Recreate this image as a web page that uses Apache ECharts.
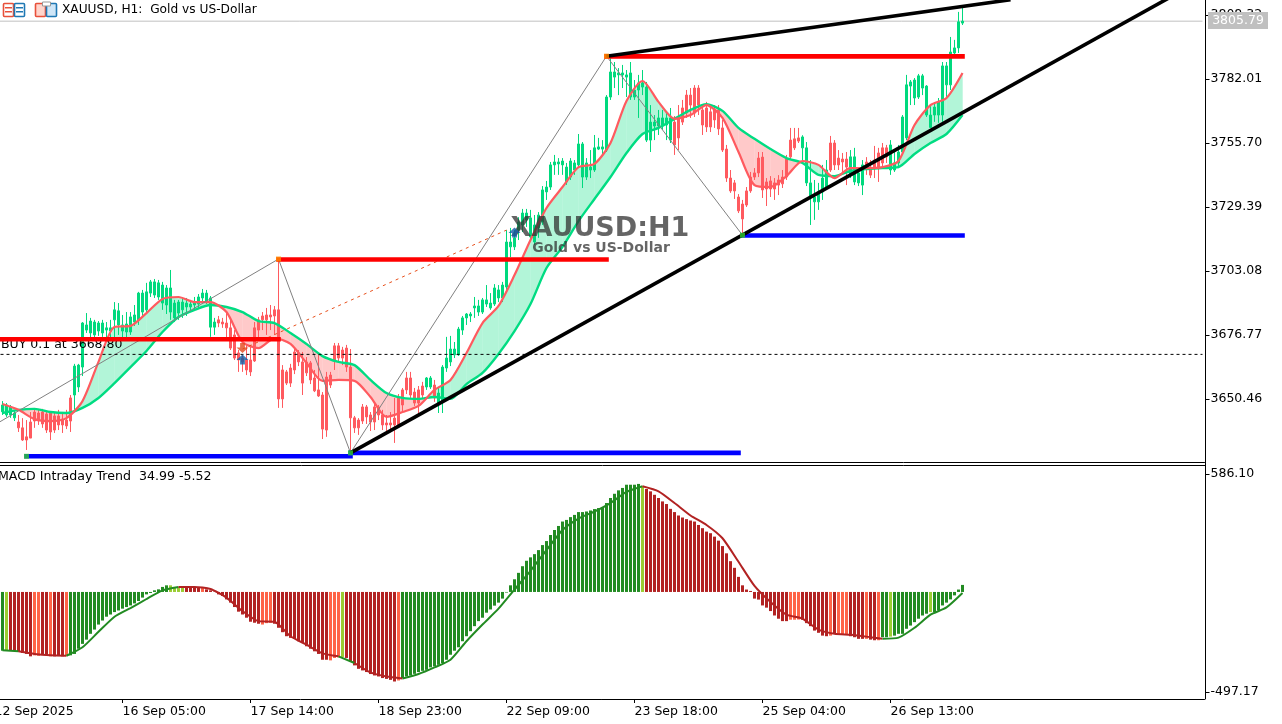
<!DOCTYPE html>
<html><head><meta charset="utf-8"><title>XAUUSD H1</title>
<style>html,body{margin:0;padding:0;background:#fff;overflow:hidden}#c{width:1282px;height:724px}</style>
<script src="https://cdn.jsdelivr.net/npm/echarts@6/dist/echarts.min.js"></script>
</head><body><div id="c"></div><script>
const opens=[3645.2,3643.9,3643.9,3642.7,3641.0,3638.6,3634.9,3641.0,3645.1,3644.7,
3645.1,3644.3,3644.7,3643.5,3643.5,3642.2,3641.8,3650.9,3652.1,3655.4,
3663.6,3678.8,3677.6,3676.8,3678.4,3677.6,3678.8,3678.4,3683.0,3680.9,
3678.4,3678.0,3678.0,3682.1,3683.0,3686.2,3687.1,3694.0,3693.2,3692.4,
3689.9,3689.1,3686.2,3683.8,3685.8,3687.1,3688.3,3688.3,3689.1,3689.5,
3692.0,3690.3,3680.0,3680.0,3683.0,3682.1,3681.7,3679.7,3676.8,3669.4,
3667.3,3666.5,3666.5,3679.7,3683.0,3684.6,3685.0,3685.0,3687.1,3687.1,
3662.4,3661.6,3663.2,3669.8,3669.4,3665.7,3665.7,3665.3,3659.1,3654.2,
3652.1,3659.5,3660.3,3672.3,3672.3,3670.6,3671.4,3663.6,3642.7,3641.8,
3647.2,3647.2,3643.9,3647.2,3647.2,3643.9,3640.6,3640.6,3642.6,3650.9,
3654.2,3659.1,3659.1,3653.3,3654.2,3655.8,3655.4,3655.4,3656.2,3648.8,
3649.3,3663.2,3665.7,3668.6,3668.6,3678.8,3683.8,3684.6,3687.9,3686.2,
3686.2,3689.5,3687.9,3689.5,3692.0,3692.0,3696.5,3713.0,3713.0,3719.9,
3722.0,3724.1,3717.1,3715.0,3720.8,3723.2,3735.6,3737.6,3746.7,3747.1,
3746.7,3739.7,3741.7,3744.6,3746.7,3741.7,3741.7,3744.6,3744.6,3753.2,
3753.2,3752.8,3774.6,3782.8,3783.7,3783.7,3782.8,3774.6,3774.6,3777.5,
3778.7,3756.9,3756.9,3762.7,3762.7,3763.1,3763.1,3756.9,3764.3,3766.0,
3770.1,3775.4,3775.4,3778.3,3778.3,3769.3,3770.1,3768.5,3769.3,3769.3,
3761.9,3753.2,3741.3,3739.3,3733.5,3730.6,3736.0,3741.7,3743.4,3749.5,
3749.9,3739.7,3740.1,3739.3,3740.5,3741.7,3749.1,3756.9,3757.4,3757.8,
3753.7,3739.3,3733.1,3731.5,3731.5,3735.6,3737.6,3755.7,3755.7,3749.5,
3749.1,3749.1,3742.5,3739.7,3739.3,3738.4,3747.9,3745.8,3748.7,3751.6,
3753.7,3753.7,3744.6,3744.6,3747.5,3752.0,3757.8,3779.1,3774.2,3774.6,
3778.3,3767.2,3762.1,3767.2,3767.2,3767.2,3779.6,3779.6,3792.7,3794.8,3805.0];
const closes=[3648.0,3648.0,3647.2,3644.7,3638.6,3633.6,3633.6,3634.4,3641.4,3641.8,
3640.2,3637.7,3636.9,3637.7,3639.8,3639.8,3639.4,3641.4,3664.0,3664.4,
3681.7,3680.9,3682.5,3682.1,3681.7,3681.7,3679.7,3679.7,3687.1,3686.7,
3680.9,3681.3,3684.2,3685.0,3694.0,3694.0,3694.5,3698.6,3698.6,3698.2,
3697.3,3696.1,3696.1,3689.9,3690.3,3690.3,3689.9,3689.5,3690.3,3692.4,
3694.0,3694.0,3692.0,3682.1,3681.7,3681.3,3679.7,3671.4,3667.3,3666.5,
3665.7,3662.4,3661.6,3666.1,3678.8,3683.0,3683.0,3684.2,3684.6,3650.5,
3650.5,3657.0,3657.0,3662.4,3665.7,3657.0,3661.2,3658.3,3653.8,3651.7,
3638.1,3637.7,3656.2,3666.5,3667.3,3667.3,3663.6,3642.7,3638.6,3638.6,
3641.4,3643.1,3641.0,3641.0,3643.9,3639.8,3639.8,3639.8,3639.8,3639.8,
3648.0,3654.2,3652.1,3648.8,3648.8,3652.1,3659.1,3659.1,3650.9,3652.9,
3663.6,3667.3,3671.0,3671.0,3679.2,3683.8,3685.4,3685.4,3688.7,3688.7,
3691.2,3691.2,3689.9,3696.1,3695.3,3697.3,3715.0,3715.0,3716.7,3723.2,
3726.9,3726.9,3724.9,3722.0,3726.1,3736.4,3737.6,3746.7,3747.9,3747.9,
3748.3,3745.8,3748.3,3747.5,3755.3,3755.3,3747.5,3745.8,3753.7,3754.1,
3754.1,3774.6,3784.9,3784.9,3784.5,3784.5,3783.7,3784.5,3777.5,3780.4,
3780.4,3778.7,3764.3,3764.3,3766.0,3766.0,3766.0,3766.0,3754.9,3757.8,
3764.3,3768.0,3771.3,3768.0,3771.3,3763.1,3762.3,3762.3,3765.2,3761.5,
3752.8,3741.3,3736.0,3736.0,3727.8,3724.5,3730.2,3736.0,3741.7,3743.4,
3736.4,3736.8,3736.8,3736.8,3738.4,3738.9,3741.7,3750.0,3753.7,3756.5,
3758.2,3753.7,3739.3,3733.5,3735.6,3741.3,3744.6,3744.6,3746.7,3746.7,
3747.9,3745.8,3750.0,3750.0,3743.4,3746.7,3745.4,3742.5,3745.8,3745.4,
3747.5,3750.0,3754.9,3747.5,3752.0,3766.4,3779.6,3780.8,3781.6,3783.3,
3783.3,3779.1,3767.2,3770.5,3772.6,3787.4,3787.4,3793.1,3794.8,3805.5,3805.8];
const lows=[3643.9,3643.1,3642.7,3641.4,3636.9,3633.2,3629.5,3634.4,3638.6,3639.8,
3638.6,3636.5,3633.6,3636.5,3637.7,3636.5,3638.1,3636.9,3646.0,3653.3,
3659.9,3677.6,3675.5,3675.5,3676.4,3676.0,3675.5,3675.5,3675.5,3676.8,
3675.5,3674.7,3676.8,3680.5,3680.9,3684.6,3685.4,3692.4,3692.0,3691.2,
3687.1,3685.4,3683.0,3682.1,3683.0,3683.8,3684.6,3686.2,3687.1,3687.9,
3690.3,3689.5,3676.0,3676.8,3680.0,3679.7,3674.7,3670.6,3666.5,3661.6,
3661.6,3660.3,3659.9,3665.7,3674.7,3678.8,3676.8,3678.8,3676.8,3646.8,
3646.8,3656.2,3655.4,3660.7,3664.0,3652.1,3659.9,3656.6,3653.3,3651.3,
3634.0,3634.9,3655.0,3662.4,3665.7,3664.4,3661.6,3628.3,3636.5,3635.7,
3640.2,3640.2,3637.3,3637.7,3641.8,3637.7,3637.3,3637.7,3632.4,3639.0,
3645.1,3652.5,3650.9,3647.6,3643.9,3650.9,3654.2,3654.6,3649.3,3644.7,
3644.7,3661.6,3664.0,3667.3,3668.2,3676.8,3680.9,3682.1,3683.8,3684.6,
3685.4,3688.3,3687.1,3688.7,3690.3,3690.3,3695.3,3708.8,3711.7,3715.8,
3719.1,3721.2,3715.8,3713.8,3716.7,3722.0,3732.3,3736.4,3742.6,3742.6,
3742.6,3738.5,3740.5,3742.6,3745.8,3737.2,3740.5,3741.3,3743.8,3752.8,
3750.8,3752.0,3773.4,3778.3,3775.4,3778.3,3774.6,3773.4,3773.4,3766.0,
3775.4,3756.1,3752.0,3756.9,3759.0,3761.1,3756.9,3755.7,3750.8,3752.8,
3763.1,3766.0,3766.0,3766.4,3767.2,3759.0,3760.2,3760.2,3761.9,3759.0,
3752.0,3739.7,3735.2,3732.7,3726.9,3718.7,3729.4,3735.2,3740.5,3741.7,
3733.1,3729.8,3733.5,3732.3,3734.3,3737.2,3740.5,3748.7,3752.8,3755.7,
3748.7,3738.0,3722.0,3724.1,3728.2,3732.3,3736.4,3743.8,3744.6,3744.6,
3742.6,3738.4,3741.3,3738.4,3738.0,3734.3,3742.6,3741.3,3741.3,3739.7,
3745.8,3747.5,3742.6,3743.8,3745.4,3751.2,3756.9,3771.3,3771.3,3773.8,
3775.4,3766.4,3761.9,3764.4,3764.0,3764.4,3774.6,3777.5,3791.9,3792.7,3804.2];
const highs=[3649.6,3648.8,3648.0,3645.9,3643.9,3642.6,3641.8,3645.1,3646.0,3646.0,
3646.4,3645.1,3645.1,3645.1,3646.0,3645.1,3646.0,3652.1,3664.9,3664.9,
3682.1,3685.8,3683.8,3683.0,3682.5,3683.0,3682.1,3683.0,3690.3,3689.9,
3685.0,3686.2,3686.2,3689.1,3694.5,3695.3,3698.2,3699.4,3699.8,3699.4,
3698.6,3697.3,3703.5,3691.2,3691.2,3692.0,3692.0,3691.2,3692.4,3693.6,
3695.7,3695.3,3692.8,3683.8,3684.6,3683.8,3685.8,3683.0,3678.8,3670.6,
3668.6,3672.7,3672.7,3682.1,3684.2,3686.2,3687.9,3689.1,3688.7,3708.0,
3664.4,3662.4,3664.9,3671.4,3670.6,3669.8,3667.7,3666.1,3662.4,3668.6,
3653.3,3661.6,3661.6,3673.5,3673.5,3671.9,3672.7,3671.0,3643.5,3642.6,
3648.4,3648.0,3645.1,3648.8,3648.0,3646.0,3643.9,3645.1,3650.9,3652.5,
3655.0,3661.6,3661.6,3655.0,3655.8,3657.5,3659.5,3659.9,3658.3,3655.0,
3664.4,3676.0,3676.4,3673.9,3680.1,3684.6,3685.8,3686.2,3692.4,3691.2,
3692.0,3697.3,3694.0,3697.7,3697.3,3698.6,3719.9,3720.8,3719.9,3725.2,
3728.6,3728.6,3728.2,3726.1,3727.3,3738.0,3740.1,3747.9,3750.8,3749.5,
3749.5,3747.5,3749.5,3748.7,3759.4,3756.1,3749.5,3752.8,3759.0,3757.8,
3756.9,3775.4,3790.6,3789.0,3786.5,3787.8,3785.7,3789.0,3781.6,3783.7,
3785.7,3780.8,3771.3,3767.2,3769.3,3769.3,3768.5,3770.1,3766.8,3771.3,
3773.4,3777.5,3778.3,3779.5,3779.5,3771.3,3772.6,3771.3,3771.3,3771.3,
3765.2,3754.9,3744.6,3740.5,3734.7,3732.3,3737.6,3743.8,3745.4,3752.0,
3752.0,3741.3,3742.1,3741.3,3742.5,3744.6,3750.8,3761.9,3761.9,3761.9,
3758.9,3756.1,3748.7,3740.5,3739.3,3746.7,3748.7,3758.6,3756.9,3752.8,
3751.6,3752.0,3752.8,3753.7,3745.8,3748.7,3749.9,3748.7,3754.5,3753.7,
3755.7,3754.9,3756.9,3752.0,3754.9,3767.2,3783.7,3781.6,3782.4,3784.1,
3784.1,3779.5,3771.3,3772.2,3774.2,3789.0,3789.0,3799.3,3798.1,3809.6,3811.6];
// fast (red) and slow (green) averages, read every 4th bar
const fastMA=[3648.4,3646.0,3642.2,3641.4,3642.6,3649.6,3665.7,3680.1,3680.5,3685.8,3691.6,3692.4,3690.3,3690.3,3686.2,3673.9,3671.4,3675.5,3673.1,3665.3,3657.9,3658.3,3657.9,3651.3,3643.1,3645.1,3647.6,3654.2,3658.3,3669.4,3681.7,3688.7,3701.4,3715.8,3729.0,3737.6,3745.8,3747.1,3755.7,3773.0,3781.2,3772.6,3765.6,3767.2,3771.3,3766.0,3752.0,3738.4,3737.6,3742.1,3748.3,3746.7,3741.3,3745.4,3745.4,3745.8,3748.3,3763.1,3771.3,3774.2,3784.5];
const slowMA=[3644.7,3646.0,3646.4,3645.1,3644.7,3646.8,3650.9,3657.0,3663.6,3670.2,3678.0,3684.2,3687.1,3689.1,3688.3,3686.2,3682.5,3681.7,3677.6,3673.1,3668.1,3665.7,3664.4,3658.3,3652.9,3650.9,3650.5,3651.3,3650.5,3656.6,3661.2,3669.0,3678.4,3689.5,3704.3,3713.0,3723.6,3732.7,3741.7,3751.6,3759.4,3761.9,3765.6,3769.3,3771.7,3768.9,3761.9,3757.4,3753.2,3749.5,3747.5,3742.6,3742.1,3744.2,3745.0,3745.4,3745.8,3751.2,3755.7,3759.4,3767.2];
const macdHist=[-292,-292,-292,-292,-298,-303,-308,-320,-315,-317,
-312,-312,-320,-320,-317,-320,-317,-315,-308,-282,
-258,-237,-208,-187,-162,-142,-123,-112,-100,-92,
-83,-75,-67,-57,-45,-28,-12,-5,8,13,
25,33,33,25,22,22,25,25,25,25,
22,13,8,2,-12,-20,-37,-53,-75,-98,
-112,-128,-148,-153,-158,-162,-155,-153,-158,-178,
-200,-220,-228,-233,-245,-253,-270,-282,-295,-308,
-337,-337,-340,-328,-325,-323,-328,-345,-365,-382,
-390,-398,-408,-415,-420,-428,-432,-437,-445,-440,
-428,-420,-415,-407,-398,-392,-387,-375,-370,-362,
-353,-337,-312,-292,-275,-245,-220,-195,-170,-145,
-128,-103,-87,-68,-53,-33,-3,33,63,95,
128,155,172,188,208,233,253,283,308,328,
350,358,372,383,397,397,400,405,412,417,
422,442,467,488,505,517,533,533,533,537,
525,512,500,483,467,450,437,413,397,380,
370,362,355,350,333,317,300,292,275,255,
228,192,153,120,75,33,12,5,-33,-38,
-67,-78,-95,-117,-133,-145,-145,-138,-138,-137,
-138,-155,-170,-192,-203,-217,-220,-217,-208,-208,
-213,-213,-220,-225,-233,-233,-233,-237,-240,-240,
-225,-225,-222,-217,-208,-208,-183,-167,-150,-133,
-117,-108,-100,-100,-92,-67,-53,-37,-17,12,34.99];
// runs of histogram colours: [colour key, bars]
const macdRuns=[['G',1],['L',1],['R',6],['O',2],['R',2],['O',1],['R',3],['O',1],['G',25],['L',4],['R',4],['O',1],['R',14],['O',3],['R',14],['O',3],['L',1],['R',13],['O',1],['G',60],['L',1],['R',36],['O',3],['R',7],['O',1],['R',1],['O',3],['R',4],['O',1],['R',2],['O',1],['G',2],['L',1],['G',9],['L',1],['G',8]];
const macdColors={G:'#228B22',L:'#9ACD32',R:'#B22222',O:'#FF6347'};
// signal line, read every 4th bar, with colour runs in key-point steps
const macdSignal=[-290,-295,-308,-315,-317,-275,-198,-123,-80,-35,8,25,25,15,-28,-95,-145,-148,-220,-262,-305,-320,-353,-400,-420,-430,-408,-375,-337,-245,-162,-83,12,105,208,308,365,400,442,497,525,500,442,380,333,267,150,30,-50,-113,-133,-187,-208,-213,-222,-233,-227,-178,-113,-77,-5.52];
const signalRuns=[['G',1],['R',3],['G',7],['R',10],['G',1],['R',3],['G',15],['R',15],['G',5]];
const xTicks=[[0,'12 Sep 2025'],[32,'16 Sep 05:00'],[64,'17 Sep 14:00'],[96,'18 Sep 23:00'],[128,'22 Sep 09:00'],[160,'23 Sep 18:00'],[192,'25 Sep 04:00'],[224,'26 Sep 13:00']];
const priceTicks=[3650.46,3676.77,3703.08,3729.39,3755.70,3782.01,3808.32];
const macdTicks=[-497.17,586.10];
const lastPrice=3805.79, buyPrice=3668.80;
const redLevels=[[0,71,3675.0],[71,153,3707.8],[153,242,3791.3]];
const blueLevels=[[8,89,3626.9],[89,186,3628.3],[187,242,3717.7]];
const zigzag=[[0,3639.8],[71,3708.0],[89,3628.3],[153,3791.4],[187,3717.8]];
const trendLines=[[[89,3628.3],[294,3815.7]],[[153,3791.4],[254,3814.6]]];
const tradeLine=[[62,3671.0],[128,3719.9]];
const swingHighDots=[[71,3708.0],[153,3791.4]];
const swingLowDots=[[8,3626.9],[89,3628.3],[187,3717.8]];
const PAD=2, SLOTS=303;

const categories=new Array(SLOTS).fill('');
xTicks.forEach(t=>{categories[t[0]]=t[1];});
const candleData=[['-','-','-','-'],['-','-','-','-']].concat(opens.map((o,i)=>[o,closes[i],lows[i],highs[i]]));
const keyK=i=>i*4+PAD;
const fastLine=fastMA.map((v,i)=>[keyK(i),v]);
const slowLine=slowMA.map((v,i)=>[keyK(i),v]);
const fillRows=fastMA.slice(0,-1).map((v,i)=>[keyK(i),v,slowMA[i],keyK(i+1),fastMA[i+1],slowMA[i+1]]);
const kinds=[];macdRuns.forEach(r=>{for(let n=0;n<r[1];n++)kinds.push(r[0]);});
const histData=macdHist.map((v,i)=>({value:[i+PAD,v],itemStyle:{color:macdColors[kinds[i]]}}));

const seg=(pts,color,width,z,extra,smooth)=>Object.assign({type:'line',data:pts,symbol:'none',silent:true,z:z,xAxisIndex:0,yAxisIndex:0,smooth:smooth||false,
  lineStyle:Object.assign({color:color,width:width},extra||{})});
const series=[];
series.push(seg([[0,lastPrice],[SLOTS-1,lastPrice]],'#C0C0C0',1,1));
series.push({type:'custom',xAxisIndex:0,yAxisIndex:0,silent:true,z:2,data:fillRows,encode:{x:[0,3],y:[1,2,4,5]},
  renderItem:(p,api)=>{
    const k0=api.value(0),a0=api.value(1),b0=api.value(2),k1=api.value(3),a1=api.value(4),b1=api.value(5);
    const col=d=>d>=0?'#B2F5D8':'#FFC9C9';
    const poly=(pts,c)=>({type:'polygon',shape:{points:pts.map(q=>api.coord(q))},style:{fill:c,stroke:c,lineWidth:0.4}});
    const d0=a0-b0,d1=a1-b1;
    if(d0*d1>=0)return poly([[k0,a0],[k1,a1],[k1,b1],[k0,b0]],col(d0+d1));
    const t=d0/(d0-d1);
    const P0=api.coord([k0,a0]),P1=api.coord([k1,a1]),Q0=api.coord([k0,b0]),Q1=api.coord([k1,b1]);
    const C=[P0[0]+(P1[0]-P0[0])*t,P0[1]+(P1[1]-P0[1])*t];
    return {type:'group',children:[
      {type:'polygon',shape:{points:[P0,C,Q0]},style:{fill:col(d0),stroke:col(d0),lineWidth:0.4}},
      {type:'polygon',shape:{points:[C,P1,Q1]},style:{fill:col(d1),stroke:col(d1),lineWidth:0.4}}]};
  }});
series.push({type:'candlestick',xAxisIndex:0,yAxisIndex:0,silent:true,z:3,barWidth:2,data:candleData,
  itemStyle:{color:'#00D97E',color0:'#FF5A5F',borderColor:'#00D97E',borderColor0:'#FF5A5F',borderWidth:1}});
series.push(seg(slowLine,'#00DC82',2.4,4,null,0.25));
series.push(seg(fastLine,'#FF5A5F',2.2,4,null,0.25));
series.push(seg(zigzag,'#808080',1,5));
series.push(seg(tradeLine,'#E8501C',1,5,{type:[3,4]}));
series.push(seg([[0,buyPrice],[SLOTS-1,buyPrice]],'#000',1,5,{type:[3,3]}));
redLevels.forEach(l=>series.push(seg([[l[0],l[2]],[l[1],l[2]]],'#FF0000',4.6,6,{cap:'square'})));
blueLevels.forEach(l=>series.push(seg([[l[0],l[2]],[l[1],l[2]]],'#0000FF',4.6,6,{cap:'square'})));
trendLines.forEach(t=>series.push(seg(t,'#000',3.6,7)));
series.push({type:'scatter',xAxisIndex:0,yAxisIndex:0,silent:true,z:8,symbol:'rect',symbolSize:5,data:swingHighDots,itemStyle:{color:'#FF8C00'}});
series.push({type:'scatter',xAxisIndex:0,yAxisIndex:0,silent:true,z:8,symbol:'rect',symbolSize:5,data:swingLowDots,itemStyle:{color:'#32CD32'}});
const ARROW='path://M5 0 L10 5 L7 5 L7 9 L3 9 L3 5 L0 5 Z';
series.push({type:'scatter',xAxisIndex:0,yAxisIndex:0,silent:true,z:30,symbol:ARROW,symbolSize:[12,10],data:[[62,3666.7],[130,3718.9]],itemStyle:{color:'#0F5FA8'}});
series.push({type:'scatter',xAxisIndex:0,yAxisIndex:0,silent:true,z:30,symbol:ARROW,symbolRotate:180,symbolSize:[12,10],data:[[62,3671.4]],itemStyle:{color:'#E2491C'}});
// MACD pane
series.push({type:'bar',xAxisIndex:1,yAxisIndex:1,silent:true,z:3,barWidth:3,data:histData});
let at=0;
signalRuns.forEach(r=>{
  const pts=[];
  for(let j=at;j<=at+r[1]&&j<macdSignal.length;j++)pts.push([keyK(j),macdSignal[j]]);
  at+=r[1];
  series.push({type:'line',xAxisIndex:1,yAxisIndex:1,silent:true,z:4,symbol:'none',smooth:0.2,data:pts,lineStyle:{color:macdColors[r[0]],width:2}});
});

const FONT='"DejaVu Sans"';
const tickShown=(i,v)=>v!=='';
const chart=echarts.init(document.getElementById('c'),null,{renderer:'canvas'});
chart.setOption({
  animation:false,backgroundColor:'#fff',
  grid:[{left:-7.5,top:0,width:1212,height:462,show:false,outerBoundsMode:'none'},
        {left:-7.5,top:465,width:1212,height:234,show:false,outerBoundsMode:'none'}],
  xAxis:[
    {type:'category',gridIndex:0,data:categories,boundaryGap:true,axisLine:{show:true,onZero:false,lineStyle:{color:'#000',width:1}},axisTick:{show:false},axisLabel:{show:false},splitLine:{show:false}},
    {type:'category',gridIndex:1,data:categories,boundaryGap:true,position:'bottom',axisLine:{show:true,onZero:false,lineStyle:{color:'#000',width:1}},
      axisTick:{show:true,interval:tickShown,alignWithLabel:true,length:4,lineStyle:{color:'#000'}},
      axisLabel:{show:true,interval:tickShown,align:'left',margin:6,hideOverlap:false,color:'#000',fontFamily:FONT,fontSize:12.5},splitLine:{show:false}}
  ],
  yAxis:[
    {type:'value',gridIndex:0,position:'right',offset:1,min:3624.56,max:3814.49,scale:true,splitLine:{show:false},
      axisLine:{show:true,onZero:false,lineStyle:{color:'#000'}},axisTick:{show:true,length:4,customValues:priceTicks,lineStyle:{color:'#000'}},
      axisLabel:{show:true,customValues:priceTicks,margin:5,padding:[2,0,0,0],color:'#000',fontFamily:FONT,fontSize:12.5,formatter:v=>v.toFixed(2)}},
    {type:'value',gridIndex:1,position:'right',offset:1,min:-532,max:631,scale:true,splitLine:{show:false},
      axisLine:{show:true,onZero:false,lineStyle:{color:'#000'}},axisTick:{show:true,length:4,customValues:macdTicks,lineStyle:{color:'#000'}},
      axisLabel:{show:true,customValues:macdTicks,margin:5,padding:[2,0,0,0],color:'#000',fontFamily:FONT,fontSize:12.5,formatter:v=>v.toFixed(2)}}
  ],
  series:series,
  graphic:[
    {type:'line',z:9,silent:true,shape:{x1:0,y1:465.5,x2:1205,y2:465.5},style:{stroke:'#000',lineWidth:1}},
    {type:'line',z:9,silent:true,shape:{x1:1205.5,y1:462,x2:1205.5,y2:466},style:{stroke:'#000',lineWidth:1}},
    {type:'text',z:5,silent:true,x:1,y:345,style:{text:'BUY 0.1 at 3668.80',fill:'#000',font:'12.5px '+FONT,textVerticalAlign:'middle'}},
    {type:'text',z:20,silent:true,x:-2,y:477,style:{text:'MACD Intraday Trend  34.99 -5.52',fill:'#000',font:'12.6px '+FONT,textVerticalAlign:'middle'}},
    {type:'text',z:20,silent:true,x:600,y:229,style:{text:'XAUUSD:H1',fill:'rgba(50,50,50,0.75)',font:'bold 27px '+FONT,textAlign:'center',textVerticalAlign:'middle'}},
    {type:'text',z:20,silent:true,x:601,y:248,style:{text:'Gold vs US-Dollar',fill:'rgba(50,50,50,0.75)',font:'bold 14px '+FONT,textAlign:'center',textVerticalAlign:'middle'}},
    {type:'rect',z:20,silent:true,shape:{x:1208,y:12,width:60,height:17},style:{fill:'#C0C0C0'}},
    {type:'text',z:21,silent:true,x:1238,y:21,style:{text:'3805.79',fill:'#fff',font:'12.5px '+FONT,textAlign:'center',textVerticalAlign:'middle'}},
    {type:'text',z:21,silent:true,x:62,y:10,style:{text:'XAUUSD, H1:  Gold vs US-Dollar',fill:'#000',font:'12.2px '+FONT,textVerticalAlign:'middle'}},
    {type:'rect',z:21,silent:true,shape:{x:3.5,y:3.5,width:10,height:13,r:1},style:{fill:'#fff',stroke:'#E8503A',lineWidth:1.6}},
    {type:'rect',z:21,silent:true,shape:{x:14.5,y:3.5,width:10,height:13,r:1},style:{fill:'#fff',stroke:'#1F78B4',lineWidth:1.6}},
    {type:'rect',z:22,silent:true,shape:{x:5,y:7,width:7,height:1.5},style:{fill:'#E8503A'}},
    {type:'rect',z:22,silent:true,shape:{x:5,y:11,width:7,height:1.5},style:{fill:'#E8503A'}},
    {type:'rect',z:22,silent:true,shape:{x:16,y:7,width:7,height:1.5},style:{fill:'#1F78B4'}},
    {type:'rect',z:22,silent:true,shape:{x:16,y:11,width:7,height:1.5},style:{fill:'#1F78B4'}},
    {type:'rect',z:21,silent:true,shape:{x:35.5,y:3.5,width:10,height:13,r:1},style:{fill:'#FFD5CC',stroke:'#E8503A',lineWidth:1.6}},
    {type:'rect',z:21,silent:true,shape:{x:46.5,y:3.5,width:10,height:13,r:1},style:{fill:'#CFE6F7',stroke:'#1F78B4',lineWidth:1.6}},
    {type:'rect',z:22,silent:true,shape:{x:42.5,y:2,width:8,height:4},style:{fill:'#fff',stroke:'#999',lineWidth:1}}
  ]
});
</script></body></html>
